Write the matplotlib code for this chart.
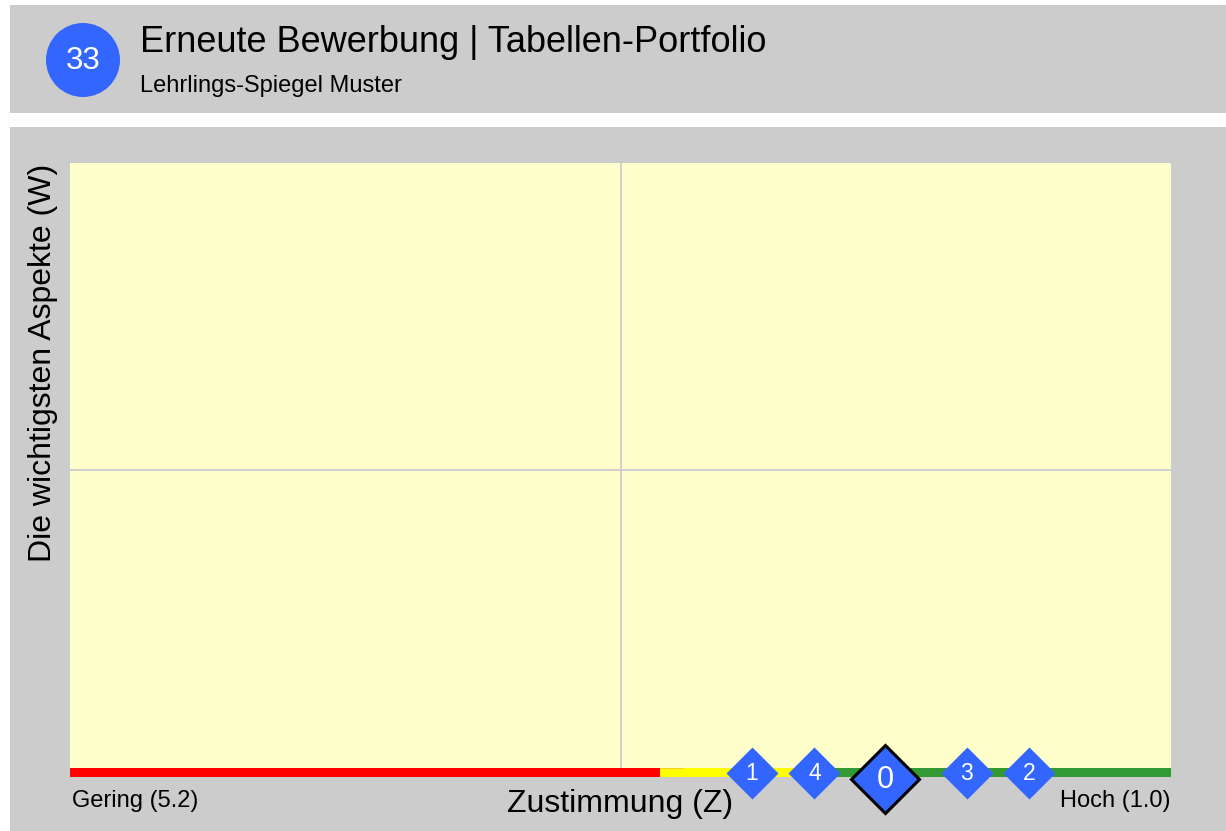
import matplotlib
matplotlib.use("Agg")
import matplotlib.pyplot as plt
from matplotlib.patches import Rectangle, Circle

plt.rcParams['font.family'] = ['Liberation Sans', 'DejaVu Sans']

# --- data -------------------------------------------------------------
title = "Erneute Bewerbung | Tabellen-Portfolio"
subtitle = "Lehrlings-Spiegel Muster"
badge = "33"
x_label = "Zustimmung (Z)"
y_label = "Die wichtigsten Aspekte (W)"
scale_low, scale_high = 5.2, 1.0
scale_mid = 3.1

# colour band along the agreement axis (from, to, colour)
band_from = [5.2, 2.95, 2.86, 2.29]
band_to = [2.95, 2.86, 2.29, 1.0]
band_colors = ["#ff0000", "#ffff00", "#ffff00", "#339933"]

item_labels = ["1", "4", "0", "3", "2"]
item_values = [2.60, 2.36, 2.09, 1.78, 1.54]
item_main = [False, False, True, False, False]

# --- figure -----------------------------------------------------------
W, H = 1226, 831
fig = plt.figure(figsize=(W / 100, H / 100), dpi=100, facecolor="white")


def fx(px):
    return px / W


def fy(py):
    return 1 - py / H


# header box
fig.patches.append(Rectangle((fx(10), fy(113)), fx(1216), (113 - 5) / H,
                             transform=fig.transFigure, facecolor="#cccccc",
                             edgecolor="none", zorder=-2))
# chart panel
fig.patches.append(Rectangle((fx(10), 0), fx(1216), fy(127),
                             transform=fig.transFigure, facecolor="#cccccc",
                             edgecolor="none", zorder=-2))

# header contents
hdr = fig.add_axes([0, fy(113), 1, (113 - 5) / H])
hdr.set_xlim(0, W)
hdr.set_ylim(113, 5)
hdr.axis("off")
hdr.add_patch(Circle((83, 60), 37, facecolor="#3366ff", edgecolor="none"))
hdr.text(83, 61, badge, color="white", fontsize=22.5, ha="center", va="center")
hdr.text(140, 43, title, fontsize=26, ha="left", va="center", color="black")
hdr.text(140, 86, subtitle, fontsize=17, ha="left", va="center", color="black")

# plot area
left, right, top, bottom = 70, 1171, 163, 777
ax = fig.add_axes([fx(left), fy(bottom), (right - left) / W, (bottom - top) / H])
ax.set_facecolor("#ffffcc")
ax.set_xlim(scale_low, scale_high)
ax.set_ylim(0, 1)
for s in ax.spines.values():
    s.set_visible(False)
ax.set_xticks([])
ax.set_yticks([])

ax.axvline(scale_mid, color="#c8c8d0", lw=1.2, zorder=1)
ax.axhline(0.5, color="#c8c8d0", lw=1.2, zorder=1)

bar_h = 9 / (bottom - top)
for x0, x1, c in zip(band_from, band_to, band_colors):
    ax.add_patch(Rectangle((x1, 0), x0 - x1, bar_h, facecolor=c,
                           edgecolor="none", zorder=2))
# faint orange rim along the top of the short transition piece
ax.plot([band_from[1], band_to[1]], [bar_h, bar_h], color="#ffcc33", lw=0.8,
        zorder=2, solid_capstyle="butt")

bar_mid = bar_h / 2
for lab, v, main in zip(item_labels, item_values, item_main):
    if main:
        y = bar_mid - 6.5 / (bottom - top)
        ax.plot([v], [y], marker="D", markersize=34.5, markerfacecolor="#3366ff",
                markeredgecolor="black", markeredgewidth=2.2, clip_on=False,
                zorder=5)
        ax.text(v, y - 1 / (bottom - top), lab, color="white", fontsize=22,
                ha="center", va="center", zorder=6, clip_on=False)
    else:
        ax.plot([v], [bar_mid], marker="D", markersize=26.5,
                markerfacecolor="#3366ff", markeredgecolor="none",
                clip_on=False, zorder=4)
        ax.text(v, bar_mid - 1 / (bottom - top), lab, color="white",
                fontsize=16.5, ha="center", va="center", zorder=6, clip_on=False)

# axis captions
fig.text(fx(620), fy(804), x_label, fontsize=23, ha="center", va="center")
fig.text(fx(43), fy(363), y_label, fontsize=23, ha="center", va="center",
         rotation=90)
fig.text(fx(72), fy(801), f"Gering ({scale_low:.1f})", fontsize=17,
         ha="left", va="center")
fig.text(fx(1170), fy(801), f"Hoch ({scale_high:.1f})", fontsize=17,
         ha="right", va="center")

fig.savefig("out.png", dpi=100, facecolor="white")
